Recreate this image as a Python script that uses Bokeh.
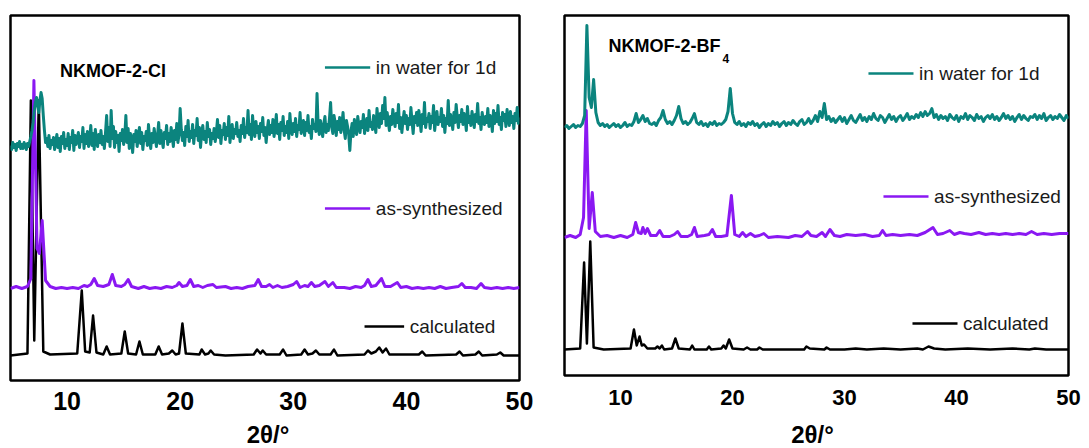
import numpy as np
from bokeh.plotting import figure
from bokeh.layouts import row, column
from bokeh.models import Range1d, FixedTicker
from bokeh.core.properties import value
from bokeh.embed import file_html
from bokeh.resources import INLINE

# ---------------- data (2theta in degrees, intensity in arbitrary units) ----------------
TICKS = [10, 20, 30, 40, 50]
SERIES = ["in water for 1d", "as-synthesized", "calculated"]
TITLES = ["NKMOF-2-Cl", "NKMOF-2-BF"]
X_LABEL = "2θ/°"

# NKMOF-2-Cl, calculated pattern: (2theta, intensity)
CL_CALC = [(5.0, 0), (6.5, 2), (6.8, 255), (7.1, 15), (7.5, 255), (7.9, 4), (8.5, 1),
           (10.9, 2), (11.3, 65), (11.6, 4), (12.0, 3), (12.3, 40), (12.6, 3),
           (13.2, 1), (13.5, 9), (13.8, 1), (14.8, 2), (15.1, 24), (15.4, 2),
           (16.1, 1), (16.4, 14), (16.7, 1), (17.8, 1), (18.1, 9), (18.4, 1),
           (19.0, 2), (19.3, 5), (19.6, 1), (19.9, 2), (20.2, 32), (20.5, 2),
           (21.7, 1), (21.9, 6), (22.2, 1), (22.5, 2), (22.7, 5), (23.0, 1), (24.0, 0),
           (26.5, 1), (26.8, 6), (27.1, 2), (27.3, 5), (27.6, 1), (28.8, 1), (29.1, 6), (29.4, 0),
           (30.7, 1), (31.0, 6), (31.3, 1), (31.7, 2), (32.0, 5), (32.3, 1),
           (33.3, 1), (33.6, 6), (33.9, 0), (36.3, 1), (36.6, 5), (36.9, 2),
           (37.3, 4), (37.6, 8), (37.9, 3), (38.2, 7), (38.5, 1), (41.1, 1), (41.4, 4), (41.7, 0),
           (44.4, 1), (44.7, 4), (45.0, 0), (46.1, 1), (46.4, 4), (46.7, 0),
           (48.0, 1), (48.3, 3), (48.6, 0), (50.0, 0)]

# NKMOF-2-Cl, as-synthesized: (2theta, intensity)
CL_SYN = [(5.0, 0), (5.5, 2), (6.0, 0), (6.5, 2), (6.8, 10), (7.07, 208), (7.35, 40), (7.55, 35),
          (7.8, 68), (8.1, 8), (8.5, 2), (9.0, 0), (9.5, 1), (10.0, 0), (10.5, 1), (11.0, 0),
          (11.5, 3), (11.8, 2), (12.1, 4), (12.4, 10), (12.7, 3), (13.2, 2), (13.7, 4), (14.0, 14),
          (14.3, 3), (14.8, 2), (15.1, 4), (15.4, 9), (15.7, 2), (16.3, 0), (16.8, 2), (17.3, 0),
          (17.8, 1), (18.3, 0), (18.8, 2), (19.3, 1), (19.7, 3), (19.9, 6), (20.2, 2), (20.6, 3),
          (20.9, 9), (21.2, 2), (21.6, 3), (22.0, 1), (22.4, 3), (22.9, 4), (23.2, 1), (24.0, 2),
          (24.5, 0), (25.0, 1), (25.5, 0), (26.0, 2), (26.6, 3), (26.9, 9), (27.2, 2), (27.6, 2),
          (27.9, 4), (28.2, 1), (28.6, 3), (29.0, 1), (29.5, 2), (30.0, 4), (30.3, 7), (30.6, 1),
          (31.0, 3), (31.3, 2), (31.6, 6), (31.9, 2), (32.3, 3), (32.8, 7), (33.1, 2), (33.5, 6),
          (33.8, 1), (34.5, 1), (35.0, 0), (35.5, 2), (36.0, 1), (36.3, 3), (36.6, 9), (36.9, 2),
          (37.3, 3), (37.8, 10), (38.1, 2), (38.6, 2), (39.2, 6), (39.5, 1), (40.0, 2), (40.5, 0),
          (41.0, 1), (41.5, 0), (42.0, 1), (42.5, 0), (43.0, 2), (43.5, 0), (44.0, 1), (44.6, 2),
          (44.9, 5), (45.2, 1), (45.7, 1), (46.2, 0), (46.6, 5), (46.9, 1), (47.5, 0), (48.0, 1),
          (48.5, 0), (49.0, 1), (49.5, 0), (50.0, 1)]

# NKMOF-2-Cl, in water for 1d: intensity on a 0.1 degree scan grid from 5.0 to 50.0
CL_WATER = [15, 11, 18, 13, 16, 10, 17, 14, 19, 12,
            16, 12, 18, 15, 11, 17, 14, 19, 24, 30,
            38, 50, 58, 63, 55, 48, 60, 68, 62, 45,
            30, 18, 22, 14, 25, 12, 20, 16, 23, 11,
            19, 26, 13, 22, 9, 24, 17, 28, 12, 21,
            15, 27, 11, 23, 18, 30, 10, 25, 16, 22,
            28, 13, 24, 19, 33, 12, 26, 17, 29, 14,
            22, 35, 15, 27, 11, 31, 20, 14, 26, 18,
            30, 16, 24, 12, 28, 45, 19, 33, 14, 50,
            22, 34, 13, 29, 18, 25, 9, 27, 20, 31,
            16, 24, 45, 18, 32, 12, 27, 21, 8, 26,
            19, 30, 14, 25, 33, 17, 28, 11, 24, 20,
            29, 15, 36, 21, 12, 27, 18, 32, 23, 14,
            25, 38, 17, 30, 20, 13, 28, 22, 35, 16,
            27, 19, 33, 24, 14, 30, 21, 37, 18, 26,
            52, 31, 20, 28, 15, 34, 24, 40, 19, 29,
            23, 36, 17, 30, 25, 42, 20, 33, 13, 28,
            35, 21, 29, 18, 38, 24, 31, 16, 27, 22,
            32, 19, 28, 41, 23, 35, 17, 30, 26, 37,
            21, 33, 25, 44, 18, 29, 36, 22, 31, 27,
            38, 24, 30, 19, 35, 27, 42, 23, 33, 28,
            50, 26, 36, 21, 45, 30, 24, 39, 28, 34,
            22, 37, 29, 43, 25, 33, 18, 31, 40, 26,
            35, 28, 41, 24, 32, 46, 27, 36, 21, 38,
            30, 44, 25, 34, 28, 39, 22, 47, 31, 26,
            37, 29, 42, 24, 35, 31, 48, 27, 33, 40,
            25, 38, 30, 45, 28, 34, 22, 41, 32, 36,
            29, 67, 35, 26, 40, 31, 24, 37, 44, 28,
            36, 30, 42, 58, 33, 27, 45, 38, 25, 39,
            31, 43, 28, 36, 48, 30, 22, 40, 34, 26,
            10, 29, 37, 24, 41, 32, 26, 44, 35, 28,
            39, 33, 46, 27, 36, 42, 30, 50, 34, 38,
            31, 45, 36, 28, 52, 40, 33, 47, 37, 55,
            42, 63, 35, 48, 39, 30, 44, 36, 51, 41,
            34, 47, 38, 56, 32, 43, 28, 40, 49, 37,
            45, 31, 42, 36, 53, 39, 27, 44, 38, 48,
            35, 50, 40, 29, 46, 37, 58, 33, 42, 39,
            47, 32, 44, 38, 55, 30, 41, 49, 36, 43,
            39, 52, 34, 45, 28, 42, 37, 60, 35, 46,
            40, 31, 48, 38, 56, 43, 33, 45, 39, 51,
            36, 47, 41, 30, 54, 38, 44, 35, 49, 42,
            33, 46, 39, 57, 37, 43, 31, 48, 40, 36,
            44, 38, 52, 34, 45, 41, 29, 50, 37, 47,
            39, 55, 36, 43, 31, 48, 40, 46, 34, 51,
            42, 35, 49, 38, 44, 32, 47, 40, 53, 37,
            43]

# NKMOF-2-BF4, calculated pattern
BF_CALC = [(5.0, 0), (6.4, 1), (6.75, 87), (7.0, 6), (7.3, 108), (7.6, 2), (8.5, 0),
           (10.9, 1), (11.2, 20), (11.45, 4), (11.7, 13), (11.9, 4), (12.1, 5), (12.4, 1),
           (13.1, 1), (13.3, 3), (13.5, 1), (13.7, 4), (13.9, 0), (14.6, 1), (14.9, 11), (15.2, 1),
           (16.2, 0), (16.4, 4), (16.6, 0), (17.7, 0), (17.9, 3), (18.1, 0), (19.0, 1), (19.2, 4),
           (19.4, 1), (19.7, 10), (20.0, 1), (21.0, 0), (21.3, 2), (21.6, 0), (22.2, 0), (22.4, 2),
           (22.7, 0), (26.4, 0), (26.6, 3), (26.9, 1), (28.2, 0), (28.4, 2), (28.7, 0), (30.0, 0),
           (31.0, 1), (32.0, 0), (33.5, 1), (35.0, 0), (36.5, 1), (37.0, 0), (37.5, 3), (38.0, 1),
           (39.0, 0), (41.0, 1), (43.0, 0), (45.0, 1), (46.5, 0), (47.0, 1), (48.0, 0), (50.0, 0)]

# NKMOF-2-BF4, as-synthesized
BF_SYN = [(5.0, 0), (5.5, 2), (6.0, 0), (6.4, 3), (6.7, 20), (6.94, 127), (7.2, 9), (7.48, 45),
          (7.75, 6), (8.2, 1), (8.8, 2), (9.4, 0), (10.0, 2), (10.6, 0), (11.1, 3), (11.35, 15),
          (11.6, 5), (11.85, 4), (12.0, 10), (12.2, 4), (12.4, 9), (12.7, 2), (13.2, 2), (13.5, 7),
          (13.8, 1), (14.4, 1), (14.8, 3), (15.1, 6), (15.4, 1), (16.0, 1), (16.35, 3), (16.6, 10),
          (16.85, 1), (17.5, 2), (17.9, 3), (18.2, 8), (18.5, 1), (19.0, 1), (19.5, 2), (19.9, 42),
          (20.2, 3), (20.6, 1), (20.9, 5), (21.2, 1), (21.6, 4), (22.0, 1), (22.4, 2), (22.8, 4),
          (23.2, 0), (24.0, 1), (25.0, 0), (25.6, 2), (26.2, 1), (26.7, 6), (27.0, 2), (27.5, 1),
          (28.0, 5), (28.3, 1), (28.7, 8), (29.1, 2), (29.6, 1), (30.2, 3), (31.0, 2), (31.8, 3),
          (32.5, 1), (33.1, 2), (33.4, 7), (33.7, 2), (34.3, 3), (35.0, 2), (35.8, 3), (36.5, 2),
          (37.2, 5), (37.9, 10), (38.3, 3), (38.8, 4), (39.4, 7), (39.8, 3), (40.3, 5), (40.7, 4),
          (41.3, 3), (42.0, 5), (42.6, 3), (43.2, 4), (43.8, 3), (44.4, 4), (45.0, 3), (45.6, 4),
          (46.2, 3), (46.7, 6), (47.2, 3), (47.8, 4), (48.5, 3), (49.2, 4), (50.0, 4)]

# NKMOF-2-BF4, in water for 1d: 0.2 degree grid from 5.0 to 50.0
BF_WATER = [0, 2, -1, 1, 3, 0, 2, 1, 4, 12,
            102, 30, 20, 48, 15, 5, 2, 4, 1, 3,
            0, 2, 4, 1, 3, 0, 2, 5, 1, 3,
            2, 6, 14, 5, 8, 12, 6, 9, 4, 3,
            5, 2, 7, 10, 17, 8, 4, 6, 3, 7,
            12, 21, 9, 4, 6, 3, 5, 9, 14, 5,
            3, 6, 2, 4, 1, 5, 3, 6, 2, 4,
            3, 5, 8, 16, 39, 14, 5, 3, 6, 2,
            4, 1, 5, 3, 6, 2, 4, 0, 3, 5,
            1, 4, 2, 6, 3, 5, 1, 4, 6, 2,
            5, 3, 7, 4, 2, 6, 8, 3, 5, 9,
            4, 7, 12, 6, 16, 10, 24, 8, 11, 6,
            9, 5, 8, 11, 6, 10, 4, 8, 12, 7,
            5, 9, 13, 7, 10, 6, 11, 8, 14, 9,
            7, 12, 10, 5, 9, 13, 8, 11, 6, 10,
            12, 7, 10, 14, 8, 11, 9, 13, 10, 15,
            11, 16, 12, 14, 19, 10, 13, 8, 12, 9,
            11, 7, 13, 10, 8, 12, 6, 11, 9, 14,
            8, 12, 10, 7, 13, 9, 11, 6, 10, 12,
            9, 13, 8, 11, 7, 10, 14, 9, 12, 8,
            11, 6, 10, 13, 8, 12, 9, 7, 11, 10,
            13, 8, 12, 9, 14, 7, 10, 12, 8, 11,
            9, 13, 10, 7, 12, 9]

# ---------------- styling ----------------
TEAL = "#0b847e"
PURPLE = "#8a18f2"
BLACK = "#000000"
FONT = "Liberation Sans"
GRID_CL = np.round(np.linspace(5.0, 50.0, len(CL_WATER)), 2)
GRID_BF = np.round(np.linspace(5.0, 50.0, len(BF_WATER)), 2)


def make_fig(width, height, bl, br, bb, ytop, tick_size, tick_standoff):
    p = figure(width=width, height=height, output_backend="svg", toolbar_location=None,
               x_range=Range1d(5, 50), y_range=Range1d(0, ytop),
               min_border_left=bl, min_border_right=br, min_border_top=15,
               min_border_bottom=bb)
    p.grid.visible = False
    p.yaxis.visible = False
    p.outline_line_color = BLACK
    p.outline_line_width = 2.5
    p.outline_line_alpha = 1
    ax = p.xaxis[0]
    ax.ticker = FixedTicker(ticks=TICKS)
    ax.axis_line_color = None
    ax.major_tick_line_color = None
    ax.minor_tick_line_color = None
    ax.major_tick_out = 0
    ax.major_tick_in = 0
    ax.major_label_standoff = tick_standoff
    ax.major_label_text_font = FONT
    ax.major_label_text_font_style = "bold"
    ax.major_label_text_font_size = tick_size
    ax.major_label_text_color = BLACK
    return p


def title_strip(p, width, height, bl, br, xc, size):
    """Strip under a panel that carries the x-axis title, sharing the panel's x scale."""
    s = figure(width=width, height=height, output_backend="svg", toolbar_location=None,
               x_range=p.x_range, y_range=Range1d(0, 1),
               min_border_left=bl, min_border_right=br, min_border_top=0, min_border_bottom=0)
    s.axis.visible = False
    s.grid.visible = False
    s.outline_line_color = None
    s.text(x=[xc], y=[0.5], text=[X_LABEL], text_font=value(FONT), text_font_size=size,
           text_font_style="bold", text_align="center", text_baseline="middle",
           text_color=BLACK)
    return s


def pairs(data, offset):
    xs = [d[0] for d in data]
    ys = [d[1] + offset for d in data]
    return xs, ys


def legend_entry(p, x0, x1, y, color, text):
    p.line(x=[x0, x1], y=[y, y], line_color=color, line_width=2.5)
    p.text(x=[x1 + 0.5], y=[y], text=[text], text_font=value(FONT), text_font_size="19px",
           text_baseline="middle", text_align="left", text_color="#1a1a1a")


# ---------------- left panel: NKMOF-2-Cl ----------------
p1 = make_fig(540, 419, 10, 21, 39, 365, "25px", 11)
x, y = pairs(CL_CALC, 25)
p1.line(x, y, line_color=BLACK, line_width=2.5, line_join="round")
x, y = pairs(CL_SYN, 92)
p1.line(x, y, line_color=PURPLE, line_width=3, line_join="round")
p1.line(list(GRID_CL), [v + 220 for v in CL_WATER], line_color=TEAL, line_width=3,
        line_join="round")
p1.text(x=[9.38], y=[310], text=[TITLES[0]], text_font=value(FONT), text_font_size="18px",
        text_font_style="bold", text_baseline="middle", text_align="left", text_color=BLACK)
legend_entry(p1, 32.8, 36.8, 313, TEAL, SERIES[0])
legend_entry(p1, 32.8, 36.8, 172, PURPLE, SERIES[1])
legend_entry(p1, 36.3, 39.8, 54, BLACK, SERIES[2])
s1 = title_strip(p1, 540, 29, 10, 21, 27.77, "24px")

# ---------------- right panel: NKMOF-2-BF4 ----------------
p2 = make_fig(549, 420, 24, 21, 45, 360, "22px", 14)
x, y = pairs(BF_CALC, 26)
p2.line(x, y, line_color=BLACK, line_width=2.5, line_join="round")
x, y = pairs(BF_SYN, 138)
p2.line(x, y, line_color=PURPLE, line_width=3, line_join="round")
p2.line(list(GRID_BF), [v + 248 for v in BF_WATER], line_color=TEAL, line_width=3,
        line_join="round")
p2.text(x=[8.93], y=[330], text=[TITLES[1]], text_font=value(FONT), text_font_size="18px",
        text_font_style="bold", text_baseline="middle", text_align="left", text_color=BLACK)
p2.text(x=[19.1], y=[317], text=["4"], text_font=value(FONT), text_font_size="12px",
        text_font_style="bold", text_baseline="middle", text_align="left", text_color=BLACK)
legend_entry(p2, 32.14, 36.16, 302, TEAL, SERIES[0])
legend_entry(p2, 33.48, 37.5, 179, PURPLE, SERIES[1])
legend_entry(p2, 36.07, 40.09, 52, BLACK, SERIES[2])
s2 = title_strip(p2, 549, 28, 24, 21, 27.14, "24px")

layout = row(column(p1, s1), column(p2, s2))
open("out.html", "w").write(file_html(layout, INLINE))
